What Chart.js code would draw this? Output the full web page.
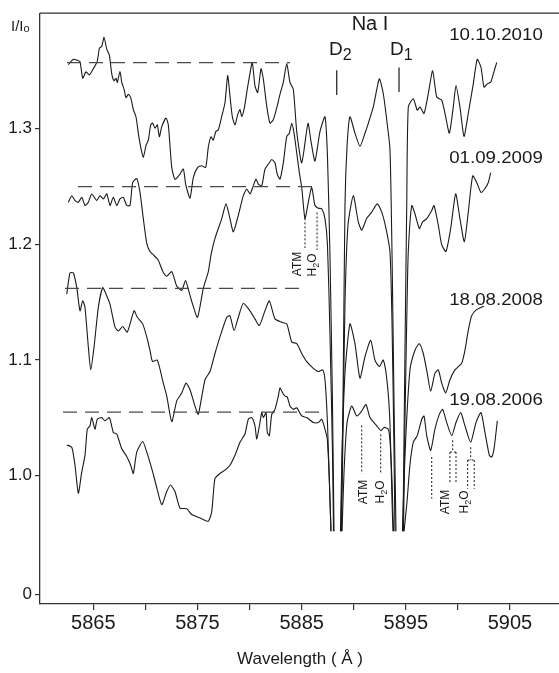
<!DOCTYPE html>
<html>
<head>
<meta charset="utf-8">
<script src="https://cdn.jsdelivr.net/npm/chart.js@4.4.1/dist/chart.umd.min.js"></script>
<style>
  html, body { margin: 0; padding: 0; background: #fff; }
  canvas { display: block; }
</style>
</head>
<body>
<canvas id="naChart" width="559" height="673"></canvas>
<script>
// Na I D-lines, normalised intensity I/Io vs wavelength (A), four epochs
const seriesLabels = ['10.10.2010', '01.09.2009', '18.08.2008', '19.08.2006'];

const wl2010 = [5862.60,5863.08,5863.46,5863.72,5863.98,5864.30,5864.62,5865.00,5865.38,5865.58,
  5865.81,5866.03,5866.29,5866.54,5866.77,5866.99,5867.18,5867.30,5867.56,5867.73,
  5867.95,5868.14,5868.36,5868.59,5868.84,5869.10,5869.32,5869.55,5869.80,5870.06,
  5870.28,5870.51,5870.70,5870.92,5871.14,5871.34,5871.57,5871.98,5872.20,5872.53,
  5872.84,5873.26,5873.64,5873.87,5874.28,5874.60,5875.02,5875.41,5875.79,5876.04,
  5876.30,5876.52,5876.75,5877.00,5877.33,5877.64,5877.90,5878.12,5878.34,5878.60,
  5878.86,5879.08,5879.25,5879.50,5879.73,5879.95,5880.26,5880.52,5880.78,5881.10,
  5881.32,5881.65,5881.96,5882.28,5882.61,5882.92,5883.24,5883.57,5883.88,5884.20,
  5884.53,5885.01,5885.61,5885.90,5886.28,5886.76,5887.24,5887.48,5887.72,5887.96,5888.11,
  5888.45,
  5888.78,5888.97,5889.16,5889.36,5889.64,5890.12,5890.60,5891.08,5891.40,5891.88,5892.46,5892.84,5893.17,5893.48,5893.68,5893.87,5894.06,
  5894.40,
  5894.73,5894.92,5895.09,5895.24,5895.72,5896.10,5896.36,5896.75,5897.16,5897.58,5897.97,5898.45,5898.83,5899.18,5899.56,5899.82,5900.20,5900.59,5901.00,5901.48,5901.86,5902.22,5902.51,5902.82,5903.15,5903.40,5903.73];
const in2010 = [1.3553,1.3600,1.3591,1.3580,1.3436,1.3491,1.3465,1.3518,1.3582,1.3694,
  1.3712,1.3789,1.3688,1.3635,1.3474,1.3415,1.3436,1.3400,1.3494,1.3400,
  1.3341,1.3268,1.3297,1.3268,1.3165,1.3101,1.2960,1.2841,1.2753,1.2856,
  1.2900,1.3033,1.3048,1.3004,1.3033,1.2930,1.3018,1.3092,1.3033,1.2665,
  1.2563,1.2600,1.2651,1.2518,1.2400,1.2577,1.2665,1.2680,1.2665,1.2841,
  1.2930,1.2900,1.2974,1.2989,1.3106,1.3224,1.3459,1.3282,1.3106,1.3033,
  1.3121,1.3165,1.3106,1.3180,1.3312,1.3430,1.3571,1.3370,1.3312,1.3518,
  1.3430,1.3194,1.3048,1.3077,1.3180,1.3297,1.3400,1.3562,1.3400,1.3341,
  1.2975,1.2705,1.3046,1.2890,1.2720,1.2975,1.3103,1.2762,1.1910,1.0631,0.952,
  null,
  0.952,1.0631,1.2336,1.2847,1.3103,1.2961,1.2847,1.2961,1.3046,1.3188,1.3430,1.3302,1.3075,1.2822,1.1910,1.0631,0.952,
  null,
  0.952,1.1057,1.2336,1.3188,1.3259,1.3160,1.3188,1.3131,1.3302,1.3501,1.3274,1.3245,1.3103,1.2961,1.3188,1.3373,1.3188,1.2933,1.3131,1.3387,1.3600,1.3529,1.3359,1.3387,1.3402,1.3472,1.3572];

const wl2009 = [5862.60,5862.93,5863.24,5863.56,5863.89,5864.20,5864.52,5864.85,5865.33,5865.64,
  5865.96,5866.29,5866.60,5866.92,5867.25,5867.56,5867.88,5868.21,5868.52,5868.78,
  5869.17,5869.48,5869.80,5870.13,5870.44,5870.76,5871.21,5871.72,5872.05,5872.53,
  5873.01,5873.49,5873.85,5874.19,5874.48,5875.00,5875.56,5876.04,5876.30,5876.68,
  5877.33,5877.74,5878.12,5878.44,5878.92,5879.40,5879.73,5880.04,5880.36,5880.62,
  5880.84,5881.17,5881.48,5881.90,5882.13,5882.44,5882.66,5882.92,5883.24,5883.57,
  5883.82,5884.05,5884.27,5884.53,5884.78,5885.01,5885.32,5885.64,5885.97,5886.28,
  5886.60,5886.93,5887.24,5887.48,5887.72,5887.96,5888.06,
  5888.45,
  5888.83,5888.97,5889.16,5889.45,5889.96,5890.44,5890.77,5891.25,5891.73,5892.26,5892.69,5893.10,5893.48,5893.68,5893.87,5893.96,
  5894.37,
  5894.78,5894.92,5895.12,5895.24,5895.57,5895.88,5896.30,5896.62,5897.01,5897.49,5897.71,5898.12,5898.45,5898.86,5899.31,5899.79,5900.20,5900.62,5901.00,5901.42,5901.81,5902.22,5902.60,5902.92,5903.15];
const in2009 = [1.2364,1.2421,1.2379,1.2364,1.2407,1.2336,1.2364,1.2436,1.2379,1.2421,
  1.2393,1.2436,1.2336,1.2407,1.2336,1.2393,1.2407,1.2336,1.2336,1.2535,
  1.2569,1.2449,1.2222,1.2009,1.1938,1.1910,1.1867,1.1756,1.1725,1.1765,
  1.1640,1.1603,1.1688,1.1590,1.1498,1.1370,1.1620,1.1765,1.1910,1.2052,
  1.2223,1.2350,1.2223,1.2108,1.2251,1.2421,1.2478,1.2436,1.2506,1.2564,
  1.2521,1.2506,1.2649,1.2705,1.2734,1.2705,1.2606,1.2564,1.2705,1.2933,
  1.2961,1.3046,1.2961,1.2790,1.2620,1.2492,1.2223,1.2364,1.2492,1.2336,
  1.2313,1.2308,1.2222,1.1995,1.1228,1.0205,0.952,
  null,
  0.952,1.0375,1.1483,1.2166,1.2421,1.2194,1.2123,1.2225,1.2279,1.2350,1.2279,1.2137,1.1938,1.1313,1.0205,0.952,
  null,
  0.952,1.0460,1.1483,1.1938,1.2336,1.2265,1.2137,1.2194,1.2222,1.2293,1.2336,1.2166,1.1995,1.1938,1.2137,1.2436,1.2222,1.2023,1.2279,1.2592,1.2535,1.2449,1.2483,1.2535,1.2620];

const wl2008 = [5862.45,5862.76,5863.08,5863.41,5863.72,5863.98,5864.20,5864.52,5864.75,5865.07,
  5865.48,5865.90,5866.29,5866.60,5867.08,5867.40,5867.82,5868.26,5868.91,5869.22,
  5869.74,5870.13,5870.44,5870.68,5871.14,5871.72,5872.05,5872.53,5873.01,5873.49,
  5873.90,5874.28,5874.76,5875.08,5875.72,5876.20,5876.68,5877.16,5877.81,5878.12,
  5878.51,5878.92,5879.40,5880.04,5880.52,5880.94,5881.48,5881.90,5882.44,5883.09,
  5883.57,5884.05,5884.53,5885.01,5885.49,5886.12,5886.60,5887.02,5887.24,5887.48,
  5887.72,5887.82,
  5888.28,
  5888.73,5888.88,5889.16,5889.64,5890.12,5890.60,5891.08,5891.63,5892.04,5892.46,5892.84,5893.22,5893.48,5893.68,5893.77,
  5894.22,
  5894.68,5894.83,5895.02,5895.40,5895.88,5896.30,5896.68,5897.06,5897.39,5897.80,5898.12,5898.45,5898.83,5899.24,5899.72,5900.36,5900.68,5901.00,5901.33,5901.74,5902.51];
const in2008 = [1.1569,1.1754,1.1754,1.1626,1.1426,1.1512,1.1455,1.1114,1.0915,1.1114,
  1.1455,1.1626,1.1554,1.1484,1.1285,1.1251,1.1290,1.1242,1.1426,1.1370,
  1.1313,1.1200,1.1083,1.0989,1.1000,1.0801,1.0688,1.0469,1.0648,1.0716,
  1.0801,1.0744,1.0603,1.0531,1.0830,1.0901,1.1057,1.1200,1.1370,1.1384,
  1.1256,1.1370,1.1490,1.1426,1.1356,1.1299,1.1426,1.1512,1.1356,1.1327,
  1.1313,1.1157,1.1142,1.1057,1.0986,1.0929,1.0901,1.0915,1.0830,1.0460,
  0.9778,0.952,
  null,
  0.952,1.0205,1.0887,1.1313,1.1142,1.0844,1.1029,1.1171,1.1000,1.0944,1.1000,1.0801,1.0460,0.9778,0.952,
  null,
  0.952,0.9950,1.0375,1.0915,1.1085,1.1142,1.1057,1.0887,1.0731,1.0887,1.0915,1.0801,1.0716,1.0830,1.0915,1.0972,1.1085,1.1256,1.1384,1.1432,1.1466];

const wl2006 = [5862.45,5862.93,5863.24,5863.56,5863.89,5864.20,5864.42,5864.68,5864.85,5865.16,
  5865.38,5865.81,5866.12,5866.54,5866.92,5867.25,5867.73,5868.14,5868.59,5868.84,
  5869.17,5869.74,5870.13,5870.61,5871.09,5871.57,5872.05,5872.41,5872.84,5873.32,
  5873.97,5874.45,5875.24,5876.04,5876.37,5876.68,5877.16,5877.64,5878.12,5878.60,
  5879.08,5879.56,5879.88,5880.21,5880.52,5880.69,5881.00,5881.17,5881.32,5881.58,
  5881.70,5881.90,5882.13,5882.44,5882.76,5882.92,5883.18,5883.40,5883.62,5883.88,
  5884.20,5884.53,5885.01,5885.49,5886.12,5886.60,5886.93,5887.24,5887.46,5887.67,
  5887.82,
  5888.35,
  5888.88,5889.07,5889.36,5889.81,5890.29,5890.77,5891.18,5891.56,5892.21,5892.62,5892.91,5893.32,5893.48,5893.68,5893.82,
  5894.32,
  5894.83,5895.12,5895.40,5895.72,5896.10,5896.53,5896.75,5897.01,5897.39,5897.80,5898.22,5898.54,5898.93,5899.41,5899.82,5900.27,5900.68,5901.23,5901.74,5902.22,5902.60,5903.02,5903.25,5903.47,5903.79];
const in2006 = [1.0267,1.0247,1.0091,0.9849,1.0034,1.0177,1.0403,1.0432,1.0503,1.0403,
  1.0489,1.0503,1.0475,1.0503,1.0375,1.0361,1.0233,1.0177,1.0091,1.0020,
  1.0205,1.0296,1.0205,1.0062,0.9898,0.9750,0.9864,0.9921,0.9864,0.9721,
  0.9715,0.9665,0.9636,0.9608,0.9693,0.9977,1.0020,1.0049,1.0091,1.0177,
  1.0290,1.0361,1.0489,1.0503,1.0432,1.0318,1.0460,1.0546,1.0503,1.0546,
  1.0375,1.0347,1.0531,1.0574,1.0688,1.0759,1.0716,1.0688,1.0682,1.0603,
  1.0574,1.0588,1.0517,1.0503,1.0460,1.0460,1.0489,1.0403,1.0318,0.9949,
  0.952,
  null,
  0.952,1.0034,1.0460,1.0603,1.0517,1.0560,1.0616,1.0503,1.0432,1.0390,1.0418,1.0403,1.0307,0.9949,0.952,
  null,
  0.952,0.9778,1.0094,1.0290,1.0347,1.0489,1.0517,1.0347,1.0219,1.0403,1.0531,1.0574,1.0460,1.0347,1.0460,1.0546,1.0432,1.0290,1.0460,1.0546,1.0375,1.0177,1.0162,1.0233,1.0475];

// continuum (dashed) levels for each epoch
const contLevels = [1.357, 1.250, 1.162, 1.055];
const contFrom = [5862.47, 5863.53, 5862.28, 5862.09];
const contTo = [5883.88, 5886.00, 5885.52, 5886.76];

const xTickValues = [5865, 5870, 5875, 5880, 5885, 5890, 5895, 5900, 5905];
const xTickLabels = ['5865', '', '5875', '', '5885', '', '5895', '', '5905'];
const yTickValues = [0.8977, 1.0, 1.1, 1.2, 1.3];
const yTickLabels = ['0', '1.0', '1.1', '1.2', '1.3'];

const FONT = "'Liberation Sans', Arial, sans-serif";
const INK = '#1a1a1a';

const allWl = [wl2010, wl2009, wl2008, wl2006];
const allIn = [in2010, in2009, in2008, in2006];

const datasets = [];
contLevels.forEach((lv, i) => {
  datasets.push({
    data: [{ x: contFrom[i], y: lv }, { x: contTo[i], y: lv }],
    borderColor: '#4a4a4a',
    borderWidth: 1.3,
    borderDash: [14, 8],
    pointRadius: 0
  });
});
seriesLabels.forEach((lab, i) => {
  datasets.push({
    label: lab,
    data: allWl[i].map((w, j) => ({ x: w, y: allIn[i][j] })),
    borderColor: INK,
    borderWidth: 1.1,
    pointRadius: 0,
    tension: 0.2,
    spanGaps: false
  });
});

// text pieces: [text, size, dy]
function richText(ctx, parts, x, y, align) {
  let w = 0;
  parts.forEach(p => { ctx.font = p[1] + 'px ' + FONT; w += ctx.measureText(p[0]).width; });
  let cx = align === 'center' ? x - w / 2 : x;
  parts.forEach(p => {
    ctx.font = p[1] + 'px ' + FONT;
    ctx.fillText(p[0], cx, y + (p[2] || 0));
    cx += ctx.measureText(p[0]).width;
  });
}

const overlay = {
  id: 'overlay',
  afterDraw(chart) {
    const ctx = chart.ctx;
    const area = chart.chartArea;
    const xs = chart.scales.x, ys = chart.scales.y;
    const px = v => xs.getPixelForValue(v);
    const py = v => ys.getPixelForValue(v);
    ctx.save();

    // top frame line
    ctx.strokeStyle = '#333';
    ctx.lineWidth = 1.3;
    ctx.beginPath();
    ctx.moveTo(area.left, area.top);
    ctx.lineTo(area.right, area.top);
    ctx.stroke();

    // D2 / D1 marker lines
    ctx.strokeStyle = INK;
    ctx.lineWidth = 1.2;
    [[5888.37, 1.3504, 1.3291], [5894.35, 1.3529, 1.3316]].forEach(m => {
      ctx.beginPath();
      ctx.moveTo(px(m[0]), py(m[1]));
      ctx.lineTo(px(m[0]), py(m[2]));
      ctx.stroke();
    });

    // telluric (ATM / H2O) dotted markers
    ctx.lineWidth = 1;
    ctx.setLineDash([2, 2]);
    const dots = [
      [5885.32, 1.2225, 5885.32, 1.1969], [5886.48, 1.2276, 5886.48, 1.1952],
      [5890.77, 1.0435, 5890.77, 1.0017], [5892.59, 1.0358, 5892.59, 1.0017],
      [5897.49, 1.0162, 5897.49, 0.9804],
      [5899.50, 1.0307, 5899.50, 1.0205], [5899.24, 1.0205, 5899.82, 1.0205],
      [5899.24, 1.0205, 5899.24, 0.9932], [5899.82, 1.0205, 5899.82, 0.9932],
      [5901.23, 1.0247, 5901.23, 1.0136], [5900.94, 1.0136, 5901.57, 1.0136],
      [5900.94, 1.0136, 5900.94, 0.9889], [5901.57, 1.0136, 5901.57, 0.9889]
    ];
    dots.forEach(d => {
      ctx.beginPath();
      ctx.moveTo(px(d[0]), py(d[1]));
      ctx.lineTo(px(d[2]), py(d[3]));
      ctx.stroke();
    });
    ctx.setLineDash([]);

    ctx.fillStyle = INK;
    ctx.textBaseline = 'alphabetic';

    // rotated ATM / H2O labels
    const rot = [[297, 264, 'ATM'], [312, 265, 'H2O'], [363, 492, 'ATM'], [380, 492, 'H2O'], [445, 502, 'ATM'], [464, 502, 'H2O']];
    rot.forEach(r => {
      ctx.save();
      ctx.translate(r[0], r[1]);
      ctx.rotate(-Math.PI / 2);
      const parts = r[2] === 'ATM' ? [['ATM', 12]] : [['H', 12], ['2', 9, 3], ['O', 12]];
      richText(ctx, parts, 0, 4, 'center');
      ctx.restore();
    });

    // Na I, D2, D1
    richText(ctx, [['Na I', 20]], 370, 30, 'center');
    richText(ctx, [['D', 19], ['2', 16, 5]], 329, 55, 'left');
    richText(ctx, [['D', 19], ['1', 16, 5]], 390, 55, 'left');

    // epoch labels
    const dateY = [39.5, 163, 305, 405];
    seriesLabels.forEach((lab, i) => {
      ctx.save();
      ctx.translate(496, dateY[i]);
      ctx.scale(1.1, 1);
      richText(ctx, [[lab, 17]], 0, 0, 'center');
      ctx.restore();
    });

    // axis captions
    richText(ctx, [['I/I', 15], ['o', 11, 1]], 11, 31, 'left');
    richText(ctx, [['Wavelength ( Å )', 17]], 300, 664, 'center');

    ctx.restore();
  }
};

new Chart(document.getElementById('naChart'), {
  type: 'line',
  data: { datasets: datasets },
  options: {
    responsive: false,
    animation: false,
    layout: { padding: { top: 5, right: 0, left: 0, bottom: 0 } },
    plugins: { legend: { display: false }, tooltip: { enabled: false } },
    scales: {
      x: {
        type: 'linear',
        min: 5859.88,
        max: 5909.71,
        afterFit(s) { s.height = 69; },
        afterBuildTicks(s) { s.ticks = xTickValues.map(v => ({ value: v })); },
        ticks: {
          autoSkip: false,
          maxRotation: 0,
          padding: 1,
          color: INK,
          font: { family: FONT, size: 20 },
          callback: (v, i) => xTickLabels[i]
        },
        grid: { drawOnChartArea: false, tickLength: 6, color: '#333', lineWidth: 1.2 },
        border: { display: true, color: '#333', width: 1.3 }
      },
      y: {
        min: 0.8892,
        max: 1.3998,
        afterFit(s) { s.width = 40; },
        afterBuildTicks(s) { s.ticks = yTickValues.map(v => ({ value: v })); },
        ticks: {
          padding: 3,
          color: INK,
          font: { family: FONT, size: 17 },
          callback: (v, i) => yTickLabels[i]
        },
        grid: { drawOnChartArea: false, tickLength: 5, color: '#333', lineWidth: 1.2 },
        border: { display: true, color: '#333', width: 1.3 }
      }
    }
  },
  plugins: [overlay]
});
</script>
</body>
</html>
